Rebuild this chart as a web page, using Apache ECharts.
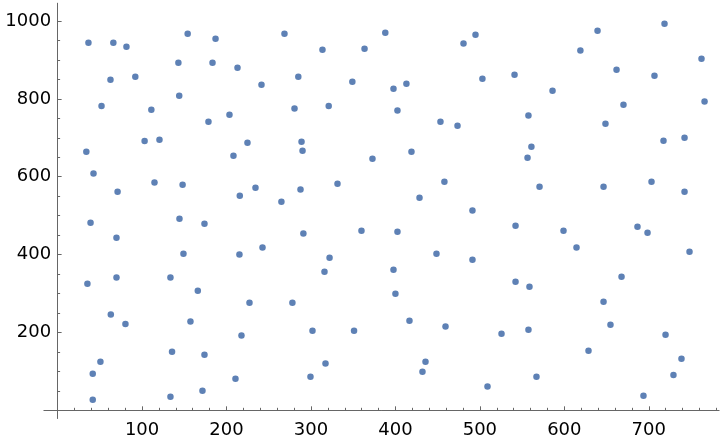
<!DOCTYPE html>
<html>
<head>
<meta charset="utf-8">
<script src="https://cdn.jsdelivr.net/npm/echarts@6/dist/echarts.min.js"></script>
<style>html,body{margin:0;padding:0;background:#fff}#c{width:720px;height:442px}</style>
</head>
<body>
<div id="c"></div>
<script>
// Scatter point values (x, y)
const xValues = [
  36.5, 66, 81.5, 143, 62.6, 92, 144, 52, 111, 103, 120.6, 34, 42.5, 114.7, 148, 71,
  154, 187, 268.6, 313.6, 183.4, 213, 241.4, 285, 349, 280.5, 321, 203.5, 178.6, 224.8, 288.8, 290, 208.2, 215.7, 234.3, 287.6, 331.4, 265,
  388, 363.4, 494.8, 480.6, 503, 541, 397.7, 413, 402.4, 453.3, 473.5, 557.5, 561, 556.4, 372.8, 419, 458, 428.5,
  718.6, 639.3, 619, 762.4, 661.8, 706.7, 586, 670, 766, 648.7, 717.4, 742.3, 570.6, 646.4, 703.2, 742.3,
  39, 144.3, 69.7, 35.3, 69.7, 133.6, 63, 80.3, 50.7, 135.5, 41.6, 41.6, 133.6,
  173.9, 291, 149, 215.3, 242.6, 322, 316, 166, 227.2, 278, 157.3, 217.7, 301.8, 351, 173.9, 317.2, 210.6, 299.4, 171.5,
  491.2, 542.2, 359.8, 402.4, 448.6, 491.2, 397.7, 542.2, 558.7, 400, 416.6, 459.3, 525.6, 557.5, 435.6, 432, 509,
  599, 614.4, 686.6, 698.5, 748.2, 667.7, 646.4, 654.6, 719.8, 628.6, 738.7, 729.2, 567, 693.7
];
const yValues = [
  944, 944, 934, 893, 849, 857, 808, 782, 772, 692, 695, 664, 608, 585, 579.5, 561.5,
  967, 954.5, 967, 926, 893, 880, 836, 857, 844, 775, 782, 759, 741, 687, 690, 667, 654, 551, 572, 567, 582, 536,
  970, 929, 965, 942, 852, 862, 826, 839, 770, 741, 731, 757, 677, 649, 646, 664, 587, 546,
  993, 975, 924, 903, 875, 859.5, 821, 785, 793, 736, 692.5, 700, 574, 574, 587, 561.5,
  482, 492, 443, 325, 341, 341, 246, 222, 125, 150.5, 94, 27, 35,
  479, 454, 402, 400, 418, 392, 356, 307, 276, 276, 228, 192, 204.5, 204.5, 143, 120, 81, 86, 50,
  513, 474, 461, 459, 402, 387, 361, 330, 317.5, 299.5, 230, 215, 197, 207, 125, 99, 61,
  461, 418, 471.6, 456, 407, 343, 279, 220, 194, 153, 132.5, 91, 86, 37.5
];
// Tick positions
const xMajorTicks = [100, 200, 300, 400, 500, 600, 700];
const xMinorTicks = [20, 40, 60, 80, 120, 140, 160, 180, 220, 240, 260, 280, 320, 340, 360, 380, 420, 440, 460, 480, 520, 540, 560, 580, 620, 640, 660, 680, 720, 740, 760, 780];
const yMajorTicks = [200, 400, 600, 800, 1000];
const yMinorTicks = [50, 100, 150, 250, 300, 350, 450, 500, 550, 650, 700, 750, 850, 900, 950];

const points = xValues.map((x, i) => [x, yValues[i]]);
const axisColor = '#666666';
const labelStyle = { fontFamily: 'DejaVu Sans', fontSize: 18, color: '#000', formatter: v => String(v) };

const chart = echarts.init(document.getElementById('c'), null, { renderer: 'canvas' });
const xCommon = { type: 'value', min: -16, max: 783, position: 'bottom', gridIndex: 0,
  splitLine: { show: false },
  axisLine: { onZero: true, lineStyle: { color: axisColor, width: 1 } } };
const yCommon = { type: 'value', min: -20.5, max: 1045.5, position: 'left', gridIndex: 0,
  splitLine: { show: false },
  axisLine: { onZero: true, lineStyle: { color: axisColor, width: 1 } } };
chart.setOption({
  animation: false,
  grid: { left: 44.1, top: 3.3, width: 674.8, height: 415, containLabel: false, outerBoundsMode: 'none' },
  xAxis: [
    Object.assign({}, xCommon, {
      axisTick: { show: true, inside: true, length: 4, customValues: xMajorTicks, lineStyle: { color: axisColor } },
      axisLabel: Object.assign({ show: true, margin: 3, customValues: xMajorTicks }, labelStyle)
    }),
    Object.assign({}, xCommon, {
      axisTick: { show: true, inside: true, length: 2.5, customValues: xMinorTicks, lineStyle: { color: axisColor } },
      axisLabel: { show: false }
    })
  ],
  yAxis: [
    Object.assign({}, yCommon, {
      axisTick: { show: true, inside: true, length: 4, customValues: yMajorTicks, lineStyle: { color: axisColor } },
      axisLabel: Object.assign({ show: true, margin: -7, customValues: yMajorTicks }, labelStyle)
    }),
    Object.assign({}, yCommon, {
      axisTick: { show: true, inside: true, length: 2.5, customValues: yMinorTicks, lineStyle: { color: axisColor } },
      axisLabel: { show: false }
    })
  ],
  series: [{
    type: 'scatter', xAxisIndex: 0, yAxisIndex: 0,
    data: points, symbol: 'circle', symbolSize: 6.5,
    itemStyle: { color: '#5E81B5', opacity: 1 }
  }]
});
</script>
</body>
</html>
